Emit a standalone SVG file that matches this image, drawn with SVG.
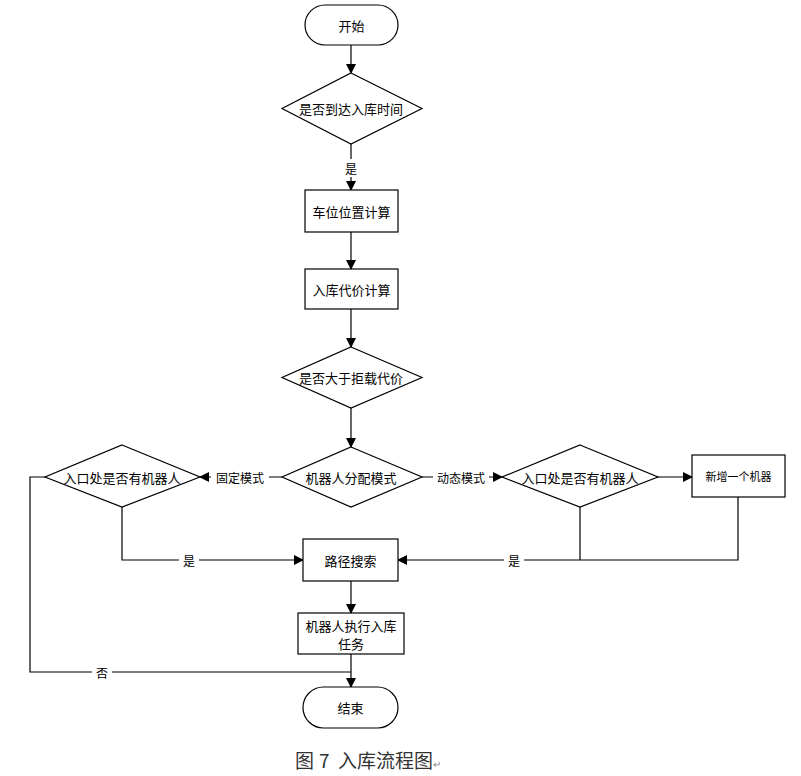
<svg xmlns="http://www.w3.org/2000/svg" width="801" height="776" viewBox="0 0 801 776">
<defs>
<marker id="arr" markerWidth="10" markerHeight="10" refX="9" refY="5" orient="auto" markerUnits="userSpaceOnUse">
<path d="M0,0 L10,5 L0,10 Z" fill="#000"/>
</marker>
<style>
.n{fill:#fff;stroke:#000;stroke-width:1.2}
.t{font-family:"Noto Sans CJK SC","Liberation Sans",sans-serif;font-size:13px;fill:#000;text-anchor:middle;dominant-baseline:central}
.s{font-size:11px}
.c{fill:none;stroke:#000;stroke-width:1.2}
.a{marker-end:url(#arr)}
.l{font-family:"Noto Sans CJK SC","Liberation Sans",sans-serif;font-size:12px;fill:#000;text-anchor:middle;dominant-baseline:central}
.cap{font-family:"Noto Sans CJK SC","Liberation Sans",sans-serif;font-size:19px;fill:#333}
</style>
</defs>
<rect width="801" height="776" fill="#fff"/>
<g id="connectors">
<line class="c a" x1="351" y1="45" x2="351" y2="73"/>
<line class="c a" x1="351" y1="144" x2="351" y2="190"/>
<line class="c a" x1="351" y1="232" x2="351" y2="269"/>
<line class="c a" x1="351" y1="309" x2="351" y2="347"/>
<line class="c a" x1="351" y1="408" x2="351" y2="447"/>
<line class="c a" x1="282" y1="477" x2="200" y2="477"/>
<line class="c a" x1="422" y1="477" x2="502" y2="477"/>
<line class="c a" x1="658" y1="477" x2="692" y2="477"/>
<polyline class="c a" points="122,507 122,560 303,560"/>
<polyline class="c a" points="738,497 738,560 398,560"/>
<line class="c" x1="580" y1="507" x2="580" y2="560"/>
<polyline class="c" points="45,477 30,477 30,672 351,672"/>
<line class="c a" x1="351" y1="581" x2="351" y2="613"/>
<line class="c a" x1="351" y1="654" x2="351" y2="687"/>
<rect x="211" y="468" width="58" height="18" fill="#fff"/>
<text class="l" x="240" y="477">固定模式</text>
<rect x="433" y="468" width="56" height="18" fill="#fff"/>
<text class="l" x="461" y="477">动态模式</text>
<rect x="340" y="159" width="22" height="18" fill="#fff"/>
<text class="l" x="351" y="168">是</text>
<rect x="179" y="551" width="20" height="18" fill="#fff"/>
<text class="l" x="189" y="560">是</text>
<rect x="504" y="551" width="20" height="18" fill="#fff"/>
<text class="l" x="514" y="560">是</text>
<rect x="92" y="663" width="20" height="18" fill="#fff"/>
<text class="l" x="102" y="672">否</text>
</g>
<g id="start">
<rect class="n" x="305" y="5" width="93" height="40" rx="20"/>
<text class="t" x="351.5" y="25">开始</text>
</g>
<g id="d_time">
<polygon class="n" points="351,73 422,108.5 351,144 282,108.5"/>
<text class="t" x="351" y="108.5">是否到达入库时间</text>
</g>
<g id="b_pos">
<rect class="n" x="305" y="190" width="93" height="42"/>
<text class="t" x="351.5" y="211">车位位置计算</text>
</g>
<g id="b_cost">
<rect class="n" x="305" y="269" width="93" height="40"/>
<text class="t" x="351.5" y="289">入库代价计算</text>
</g>
<g id="d_cost">
<polygon class="n" points="351,347 422,377.5 351,408 282,377.5"/>
<text class="t" x="351" y="377.5">是否大于拒载代价</text>
</g>
<g id="d_mode">
<polygon class="n" points="351,447 422,477 351,507 282,477"/>
<text class="t" x="351" y="477">机器人分配模式</text>
</g>
<g id="d_left">
<polygon class="n" points="122,445 200,477 122,507 45,477"/>
<text class="t" x="122" y="477">入口处是否有机器人</text>
</g>
<g id="d_right">
<polygon class="n" points="580,445 658,477 580,507 502,477"/>
<text class="t" x="580" y="477">入口处是否有机器人</text>
</g>
<g id="b_new">
<rect class="n" x="692" y="455" width="93" height="42"/>
<text class="t s" x="738.5" y="476">新增一个机器</text>
</g>
<g id="b_path">
<rect class="n" x="303" y="539" width="95" height="42"/>
<text class="t" x="350.5" y="560">路径搜索</text>
</g>
<g id="b_exec">
<rect class="n" x="298" y="613" width="106" height="41"/>
<text class="t" x="351" y="625">机器人执行入库</text>
<text class="t" x="351" y="643">任务</text>
</g>
<g id="end">
<rect class="n" x="303" y="687" width="95" height="41" rx="20.5"/>
<text class="t" x="350.5" y="707.5">结束</text>
</g>
<g id="caption">
<text class="cap" y="768"><tspan x="295">图</tspan><tspan x="319">7</tspan><tspan x="338">入库流程图</tspan><tspan font-size="10" fill="#888">↵</tspan></text>
</g>
</svg>
